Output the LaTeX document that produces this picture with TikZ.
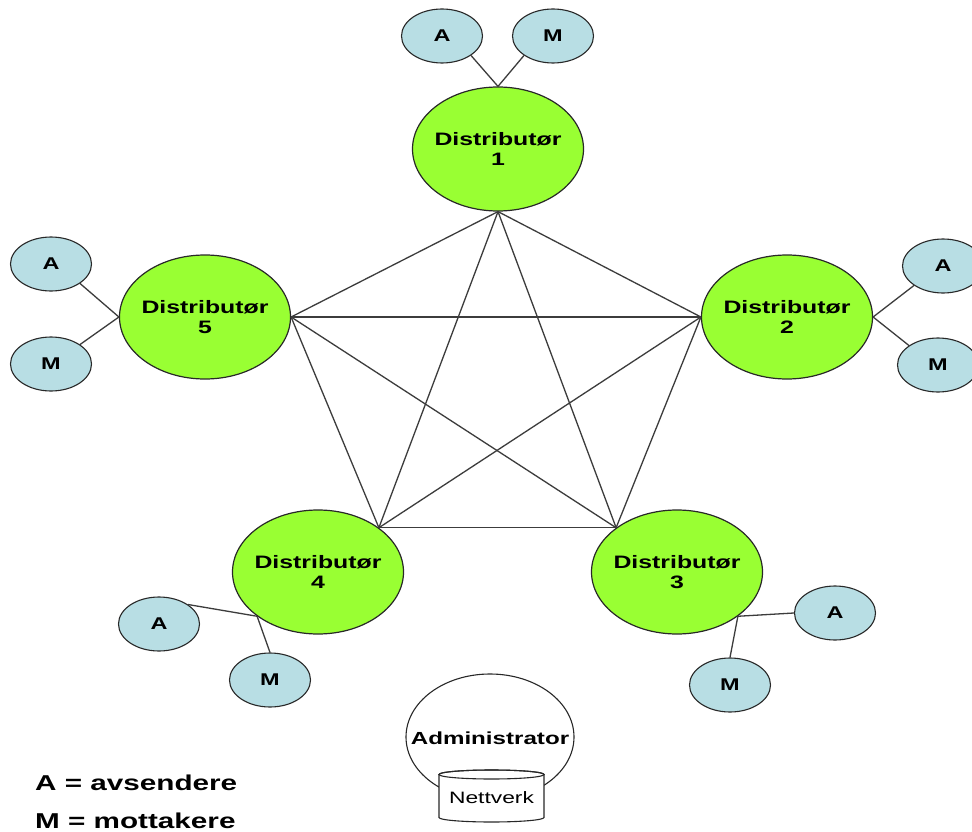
\documentclass[tikz,border=0pt]{standalone}
\usepackage{fontspec}
\setmainfont{Liberation Sans}[FakeStretch=1.38]
\usetikzlibrary{shapes.geometric}
\definecolor{distgreen}{RGB}{153,255,51}
\definecolor{amblue}{RGB}{184,222,228}
\definecolor{edgegray}{RGB}{60,60,60}
\definecolor{rimgray}{RGB}{40,40,40}
\begin{document}
\begin{tikzpicture}[x=1pt,y=-1pt,
  dist/.style={ellipse,draw=rimgray,line width=1.2pt,fill=distgreen,minimum width=171pt,minimum height=124pt,inner sep=0pt},
  disttext/.style={font=\bfseries\fontsize{18}{20.5}\selectfont,align=center,inner sep=0pt},
  am/.style={ellipse,draw=rimgray,line width=1.1pt,fill=amblue,minimum width=81pt,minimum height=54pt,inner sep=0pt,font=\bfseries\fontsize{17}{20}\selectfont},
  link/.style={draw=edgegray,line width=1.3pt},
  legend/.style={anchor=base west,inner sep=0pt,font=\bfseries\fontsize{21.5}{24}\selectfont}
]
\useasboundingbox (0,0) rectangle (972,832);
\clip (0,0) rectangle (972,832);
\fill[white] (0,0) rectangle (972,832);

% distributors
\node[dist] (d1) at (498,149) {};
\node[dist] (d2) at (787,317) {};
\node[dist] (d3) at (677,572) {};
\node[dist] (d4) at (318,572) {};
\node[dist] (d5) at (205,317) {};
\node[disttext] (d1t) at (d1) {Distributør\\1};
\node[disttext] (d2t) at (d2) {Distributør\\2};
\node[disttext] (d3t) at (d3) {Distributør\\3};
\node[disttext] (d4t) at (d4) {Distributør\\4};
\node[disttext] (d5t) at (d5) {Distributør\\5};

% senders / receivers
\node[am] (a1) at (442,36) {A};
\node[am] (m1) at (553,36) {M};
\node[am] (a2) at (943,266) {A};
\node[am] (m2) at (938,365) {M};
\node[am] (a3) at (835,613) {A};
\node[am] (m3) at (730,685) {M};
\node[am] (a4) at (159,624) {A};
\node[am] (m4) at (270,680) {M};
\node[am] (a5) at (51,264) {A};
\node[am] (m5) at (51,364) {M};

% full mesh between distributors
\draw[link] (d1.south) -- (d2.west);
\draw[link] (d1.south) -- (d3.north west);
\draw[link] (d1.south) -- (d4.north east);
\draw[link] (d1.south) -- (d5.east);
\draw[link] (d2.west) -- (d3.north west);
\draw[link] (d2.west) -- (d4.north east);
\draw[link] (d2.west) -- (d5.east);
\draw[link] (d3.north west) -- (d4.north east);
\draw[link] (d3.north west) -- (d5.east);
\draw[link] (d4.north east) -- (d5.east);

% A / M links
\draw[link] (d1.north) -- (a1.south east);
\draw[link] (d1.north) -- (m1.south west);
\draw[link] (d2.east) -- (a2.south west);
\draw[link] (d2.east) -- (m2.north west);
\draw[link] (d3.south east) -- (a3.west);
\draw[link] (d3.south east) -- (m3.north);
\draw[link] (d4.south west) -- (a4.north east);
\draw[link] (d4.south west) -- (m4.north);
\draw[link] (d5.west) -- (a5.south east);
\draw[link] (d5.west) -- (m5.north east);

% administrator with network cylinder
\node[ellipse,draw=rimgray,line width=1.1pt,minimum width=168pt,minimum height=126pt,inner sep=0pt] (adm) at (490,737) {};
\node[inner sep=0pt,font=\bfseries\fontsize{17.5}{20}\selectfont] (admt) at (490,738) {Administrator};
\path[draw=rimgray,line width=1.1pt,fill=white] (439,774.5) -- (439,817.5)
  arc[start angle=180,end angle=0,x radius=52.5,y radius=4.5] -- (544,774.5)
  arc[start angle=0,end angle=-180,x radius=52.5,y radius=4.5] -- cycle;
\draw[rimgray,line width=1.1pt] (491.5,774.5) ellipse[x radius=52.5,y radius=4.5];
\node[inner sep=0pt,font=\fontsize{16.5}{19}\selectfont] (net) at (491.5,798) {Nettverk};

% legend
\node[legend] (lega) at (35,790) {A = avsendere};
\node[legend] (legm) at (35,828) {M = mottakere};
\end{tikzpicture}
\end{document}
